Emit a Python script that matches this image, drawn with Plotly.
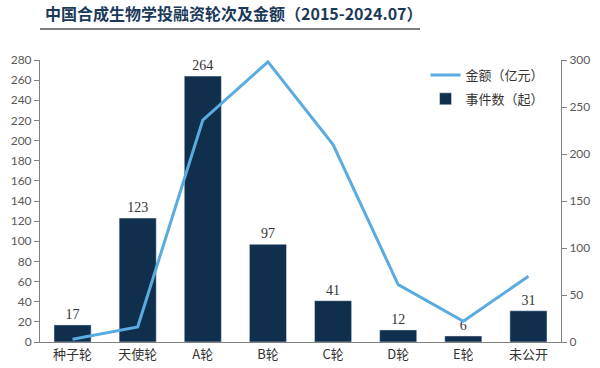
import plotly.graph_objects as go

categories = ["种子轮", "天使轮", "A轮", "B轮", "C轮", "D轮", "E轮", "未公开"]
event_counts = [17, 123, 264, 97, 41, 12, 6, 31]
amounts = [3, 16, 236, 298, 210, 61, 22, 70]
left_ticks = list(range(0, 281, 20))
right_ticks = list(range(0, 301, 50))

bar_color = "#0f2f4d"
line_color = "#5aabdf"
axis_color = "#808080"
tick_font = dict(family="Lato, DejaVu Sans, sans-serif", size=12, color="#595959")

fig = go.Figure()
fig.add_trace(go.Bar(
    x=categories, y=event_counts, name="事件数（起）", marker_color=bar_color,
    width=0.57, text=[str(v) for v in event_counts], textposition="outside",
    textfont=dict(family="Liberation Serif, serif", size=14, color="#333333"),
    cliponaxis=False, legendgroup="b", legendrank=2,
))
fig.add_trace(go.Scatter(
    x=categories, y=amounts, name="金额（亿元）", mode="lines",
    line=dict(color=line_color, width=3), yaxis="y2", legendgroup="a", legendrank=1,
))

fig.update_layout(
    width=600, height=368,
    margin=dict(l=40, r=39, t=60, b=26, autoexpand=False),
    paper_bgcolor="white", plot_bgcolor="white",
    showlegend=True,
    legend=dict(x=0.74, y=1.0, xanchor="left", yanchor="top",
                traceorder="grouped", tracegroupgap=4,
                font=dict(family="Noto Sans CJK SC", size=13, color="#333333"),
                bgcolor="rgba(0,0,0,0)", itemwidth=30),
    xaxis=dict(showline=True, linecolor=axis_color, linewidth=1, ticks="",
               tickfont=dict(family="Noto Sans CJK SC", size=13, color="#333333"),
               showgrid=False, automargin=False),
    yaxis=dict(range=[0, 280], tickvals=left_ticks, showline=True, linecolor=axis_color,
               ticks="outside", ticklen=5, tickcolor=axis_color, tickfont=tick_font,
               showgrid=False, zeroline=False, automargin=False),
    yaxis2=dict(range=[0, 300], tickvals=right_ticks, overlaying="y", side="right",
                showline=True, linecolor=axis_color, ticks="outside", ticklen=5,
                tickcolor=axis_color, tickfont=tick_font, showgrid=False, zeroline=False,
                automargin=False),
    title=dict(text="<b>中国合成生物学投融资轮次及金额（2015-2024.07）</b>",
               x=45/600, xanchor="left", y=1-14/368, yanchor="middle",
               font=dict(family="Noto Sans CJK SC", size=16, color="#1b3a5a")),
    shapes=[dict(type="line", xref="paper", yref="paper", x0=0, x1=380/521,
                 y0=(368-26-29)/282, y1=(368-26-29)/282,
                 line=dict(color="#555555", width=1.5))],
)
fig.write_html("out.html", config={"displayModeBar": False},
               post_script="document.body.style.margin='0';")
